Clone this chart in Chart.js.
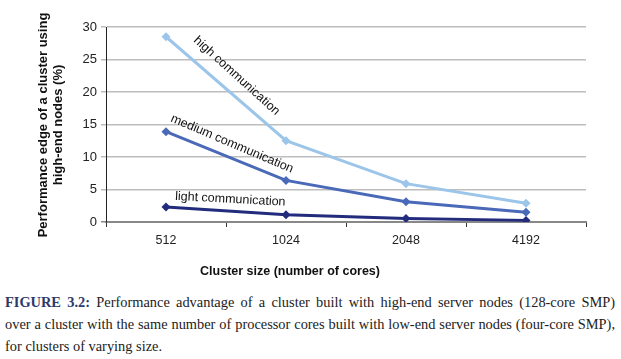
<!DOCTYPE html>
<html>
<head>
<meta charset="utf-8">
<script src="https://cdn.jsdelivr.net/npm/chart.js@4"></script>
<style>
  body { margin: 0; background: #fff; width: 621px; height: 359px; overflow: hidden; position: relative; }
  #wrap { position: absolute; left: 0; top: 0; width: 621px; height: 285px; }
  #caption {
    position: absolute; left: 5px; top: 291px; width: 610px;
    font-family: "Liberation Serif", serif; font-size: 14.4px; line-height: 22px; color: #222;
    white-space: nowrap;
  }
  #caption .full { text-align: justify; text-align-last: justify; }
  #caption b { color: #2b3a6b; }
</style>
</head>
<body>
<div id="wrap"><canvas id="chart" width="621" height="285"></canvas></div>
<div id="caption">
  <div class="full"><b>FIGURE 3.2:</b> Performance advantage of a cluster built with high-end server nodes (128-core SMP)</div>
  <div class="full">over a cluster with the same number of processor cores built with low-end server nodes (four-core SMP),</div>
  <div>for clusters of varying size.</div>
</div>
<script>
const categories = ['512', '1024', '2048', '4192'];
const highComm = [28.5, 12.5, 5.9, 2.9];
const mediumComm = [13.9, 6.4, 3.1, 1.5];
const lightComm = [2.3, 1.1, 0.55, 0.25];
const yTicks = [0, 5, 10, 15, 20, 25, 30];

const FONT = 'Arial, "Liberation Sans", sans-serif';

const labelPlugin = {
  id: 'labels',
  afterDraw(chart) {
    const ctx = chart.ctx;
    const x = chart.scales.x, y = chart.scales.y;
    ctx.save();
    ctx.fillStyle = '#111';
    // axis titles
    ctx.textAlign = 'center';
    ctx.textBaseline = 'middle';
    ctx.font = 'bold 12.5px ' + FONT;
    ctx.fillText('Cluster size (number of cores)', 290, 272);
    ctx.font = 'bold 13px ' + FONT;
    ctx.save();
    ctx.translate(43, 125);
    ctx.rotate(-Math.PI / 2);
    ctx.fillText('Performance edge of a cluster using', 0, 0);
    ctx.fillText('high-end nodes (%)', 0, 15);
    ctx.restore();
    // series labels
    ctx.font = '12.5px ' + FONT;
    ctx.textAlign = 'left';
    ctx.textBaseline = 'alphabetic';
    const put = (text, px, py, deg) => {
      ctx.save();
      ctx.translate(px, py);
      ctx.rotate(deg * Math.PI / 180);
      ctx.fillText(text, 0, 0);
      ctx.restore();
    };
    put('high communication', x.getPixelForValue(0) + 27, y.getPixelForValue(27.8), 42);
    put('medium communication', x.getPixelForValue(0) + 4, y.getPixelForValue(15.5), 23);
    put('light communication', x.getPixelForValue(0) + 9, y.getPixelForValue(3.4), 3);
    ctx.restore();
  }
};

new Chart(document.getElementById('chart'), {
  type: 'line',
  data: {
    labels: categories,
    datasets: [
      { label: 'high communication', data: highComm, borderColor: '#9cc5ea', backgroundColor: '#9cc5ea' },
      { label: 'medium communication', data: mediumComm, borderColor: '#4a69b8', backgroundColor: '#4a69b8' },
      { label: 'light communication', data: lightComm, borderColor: '#232c7c', backgroundColor: '#232c7c' }
    ]
  },
  options: {
    responsive: false,
    animation: false,
    layout: { padding: { top: 27, right: 35, bottom: 0, left: 0 } },
    elements: {
      line: { borderWidth: 3, tension: 0 },
      point: { pointStyle: 'rectRot', radius: 4.5, borderWidth: 0 }
    },
    plugins: { legend: { display: false }, tooltip: { enabled: false } },
    scales: {
      x: {
        offset: true,
        grid: { offset: true, drawOnChartArea: false, tickLength: 5, color: '#333', lineWidth: 1 },
        border: { color: '#888', width: 2 },
        ticks: { color: '#222', font: { family: FONT, size: 12.5 }, padding: 6 },
        afterFit(s) { s.height = 63; }
      },
      y: {
        min: 0, max: 30,
        afterBuildTicks(s) { s.ticks = yTicks.map(v => ({ value: v })); },
        grid: { color: c => c.tick && c.tick.value === 0 ? '#888' : '#bdbdbd', lineWidth: 1.5, tickLength: 5 },
        border: { color: '#222', width: 1 },
        ticks: { color: '#222', font: { family: FONT, size: 13 }, padding: 4 },
        afterFit(s) { s.width = 106; }
      }
    }
  },
  plugins: [labelPlugin]
});
</script>
</body>
</html>
